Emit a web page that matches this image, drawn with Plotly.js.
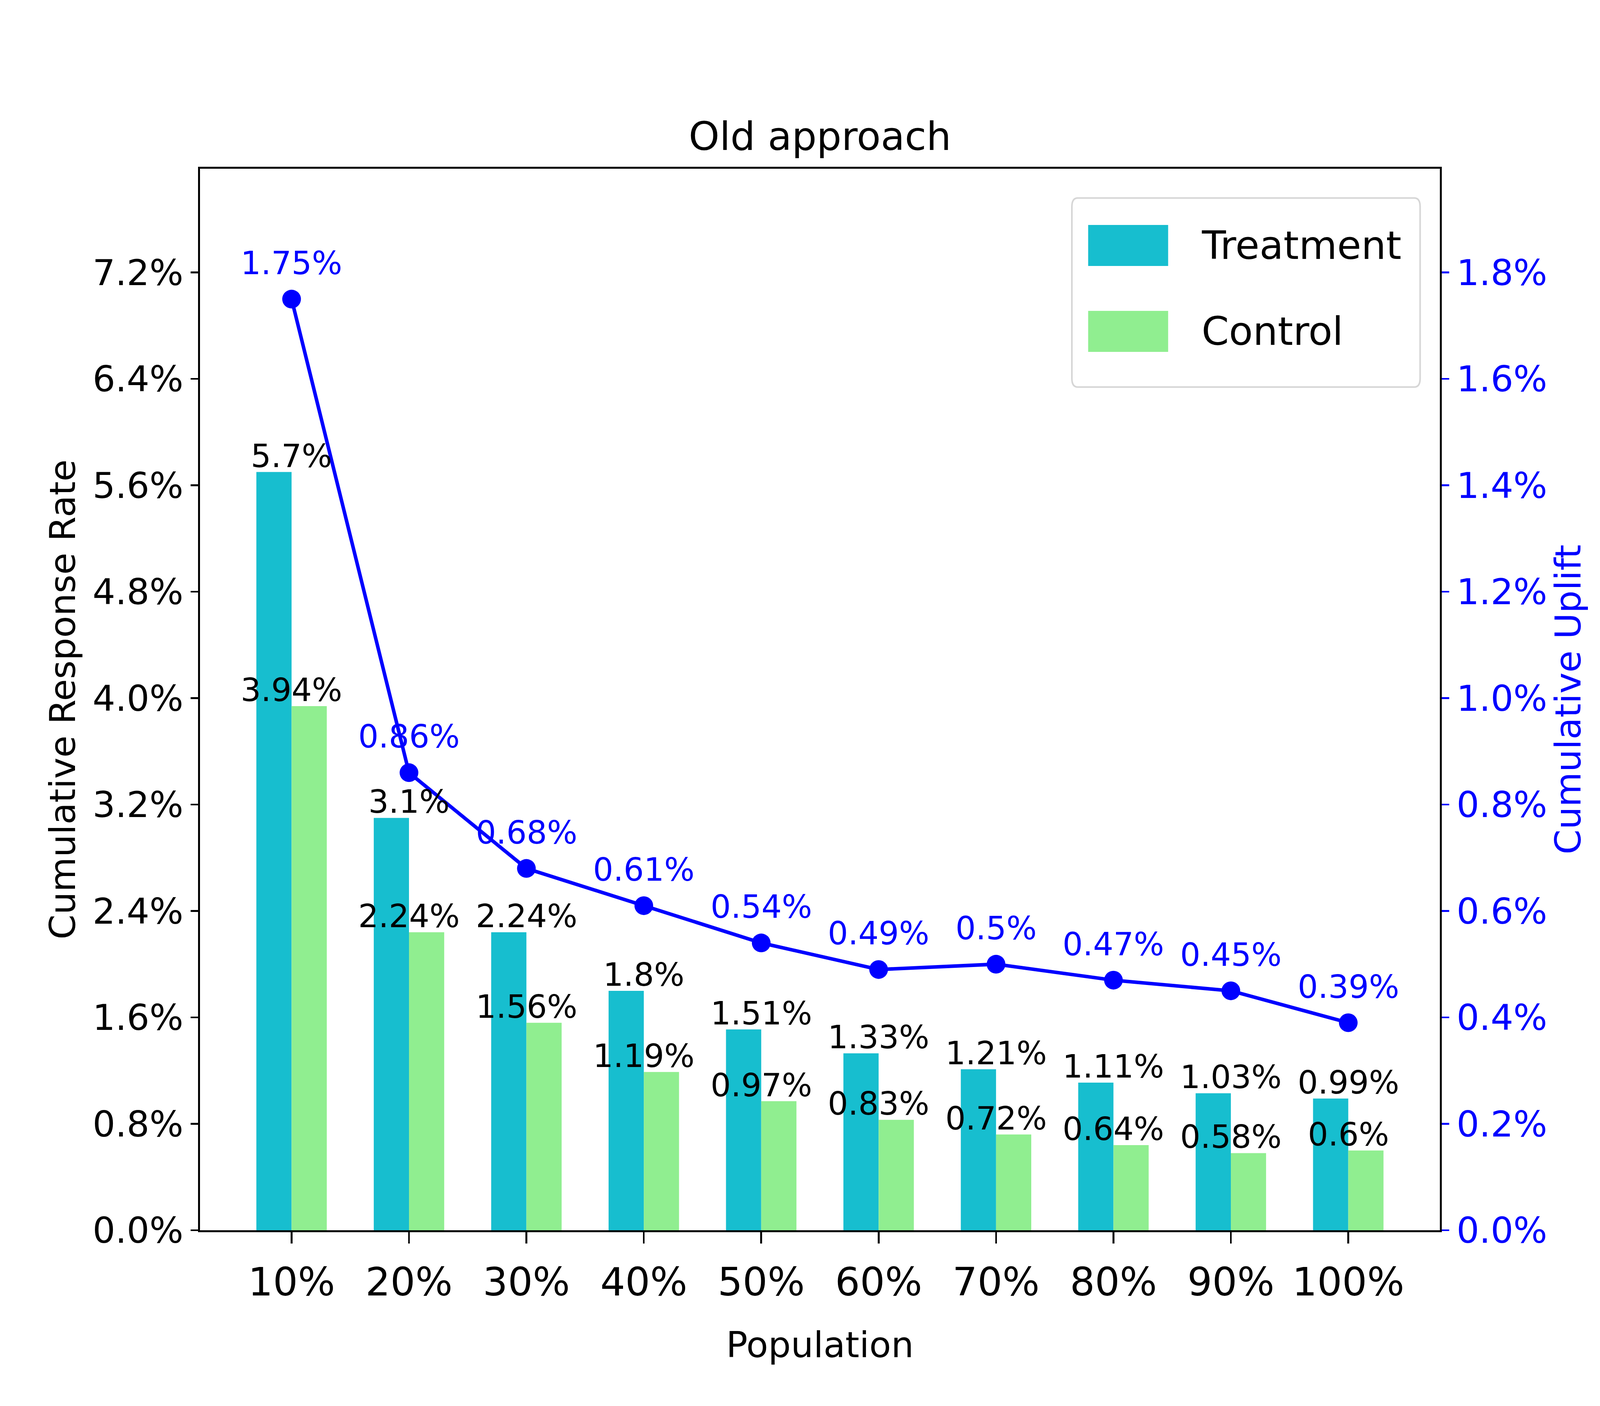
<!DOCTYPE html>
<html>
<head>
<meta charset="utf-8">
<script src="https://cdn.plot.ly/plotly-3.0.1.min.js"></script>
<style>html,body{margin:0;padding:0;background:#fff;overflow:hidden;width:100%;height:100%;}#chart{width:100vw;height:100vh;}</style>
</head>
<body>
<div id="chart"></div>
<script>
const populations = ['10%', '20%', '30%', '40%', '50%', '60%', '70%', '80%', '90%', '100%'];
const treatmentRate = [5.7, 3.1, 2.24, 1.8, 1.51, 1.33, 1.21, 1.11, 1.03, 0.99];
const controlRate = [3.94, 2.24, 1.56, 1.19, 0.97, 0.83, 0.72, 0.64, 0.58, 0.6];
const cumulativeUplift = [1.75, 0.86, 0.68, 0.61, 0.54, 0.49, 0.5, 0.47, 0.45, 0.39];
const seriesNames = ['Treatment', 'Control'];

const FONT = 'DejaVu Sans, Liberation Sans, sans-serif';
// design is 6000x3600; adapt to the real window size
const W = window.innerWidth || 6000, H = window.innerHeight || 3600;
const sx = W / 6000, sy = H / 3600, s = Math.min(sx, sy), sl = Math.sqrt(sx * sy);
const M = {l: 750 * sx, r: 600 * sx, t: 432 * sy, b: 450 * sy, pad: 0};
const pw = W - M.l - M.r, ph = H - M.t - M.b;
const px = v => (v * sx - M.l) / pw;
const py = v => (H - M.b - v * sy) / ph;

const traces = [
  {type: 'bar', name: seriesNames[0], x: populations, y: treatmentRate,
   marker: {color: '#17becf', line: {width: 0}}, yaxis: 'y', showlegend: false},
  {type: 'bar', name: seriesNames[1], x: populations, y: controlRate,
   marker: {color: '#90ee90', line: {width: 0}}, yaxis: 'y', showlegend: false},
  {type: 'scatter', mode: 'lines+markers', name: 'Cumulative Uplift', x: populations, y: cumulativeUplift,
   yaxis: 'y2', line: {color: '#0000ff', width: 11 * sl}, marker: {color: '#0000ff', size: 58 * sl}, showlegend: false}
];

const annotations = [];
populations.forEach((p, i) => {
  annotations.push({x: p, y: treatmentRate[i], xref: 'x', yref: 'y', text: treatmentRate[i] + '%',
    showarrow: false, xanchor: 'center', yanchor: 'bottom', yshift: -8 * sy,
    font: {family: FONT, size: 120 * s, color: '#000'}});
  annotations.push({x: p, y: controlRate[i], xref: 'x', yref: 'y', text: controlRate[i] + '%',
    showarrow: false, xanchor: 'center', yanchor: 'bottom', yshift: -8 * sy,
    font: {family: FONT, size: 120 * s, color: '#000'}});
  annotations.push({x: p, y: cumulativeUplift[i], xref: 'x', yref: 'y2', text: cumulativeUplift[i] + '%',
    showarrow: false, xanchor: 'center', yanchor: 'bottom', yshift: 43 * sy,
    font: {family: FONT, size: 120 * s, color: '#0000ff'}});
});

// legend drawn with large patches like the original
const legendColors = ['#17becf', '#90ee90'];
const shapes = [];
const lx0 = px(4020), lx1 = px(5326), ly0 = py(991), ly1 = py(507);
const rx = 22 * sx / pw, ry = 22 * sy / ph;
shapes.push({type: 'path', xref: 'paper', yref: 'paper',
  path: `M ${lx0 + rx},${ly0} L ${lx1 - rx},${ly0} Q ${lx1},${ly0} ${lx1},${ly0 + ry} L ${lx1},${ly1 - ry} Q ${lx1},${ly1} ${lx1 - rx},${ly1} L ${lx0 + rx},${ly1} Q ${lx0},${ly1} ${lx0},${ly1 - ry} L ${lx0},${ly0 + ry} Q ${lx0},${ly0} ${lx0 + rx},${ly0} Z`,
  fillcolor: 'rgba(255,255,255,0.8)', line: {color: '#d6d6d6', width: 6 * s}, layer: 'above'});
const patchTops = [576, 796];
seriesNames.forEach((n, k) => {
  shapes.push({type: 'rect', xref: 'paper', yref: 'paper', x0: px(4081), x1: px(4381),
    y0: py(patchTops[k] + 105), y1: py(patchTops[k]), fillcolor: legendColors[k], line: {width: 0}, layer: 'above'});
  annotations.push({xref: 'paper', yref: 'paper', x: px(4503), y: py(patchTops[k] + 52), text: n,
    showarrow: false, xanchor: 'left', yanchor: 'middle', font: {family: FONT, size: 147 * s, color: '#000'}});
});

const layout = {
  width: W, height: H,
  paper_bgcolor: '#fff', plot_bgcolor: '#fff',
  margin: M,
  font: {family: FONT, color: '#000'},
  title: {text: 'Old approach', font: {family: FONT, size: 147 * s, color: '#000'},
    x: 0.5, xref: 'paper', xanchor: 'center', y: 1, yref: 'paper', yanchor: 'bottom', pad: {b: 48 * sy}},
  barmode: 'group', bargap: 0.4, bargroupgap: 0,
  showlegend: false,
  xaxis: {type: 'category', range: [-0.78, 9.78], showline: true, linecolor: '#000', linewidth: 5.5 * sl, mirror: true,
    ticks: 'outside', ticklen: 29 * sy, tickwidth: 5.5 * sl, tickcolor: '#000', showgrid: false, zeroline: false,
    ticklabelstandoff: 13 * sy,
    tickfont: {family: FONT, size: 147 * s, color: '#000'},
    title: {text: 'Population', font: {family: FONT, size: 134 * s, color: '#000'}, standoff: 72 * sy}},
  yaxis: {range: [0, 7.98], tick0: 0, dtick: 0.8, tickformat: '.1f', ticksuffix: '%',
    showline: true, linecolor: '#000', linewidth: 5.5 * sl, mirror: false,
    ticks: 'outside', ticklen: 29 * sx, tickwidth: 5.5 * sl, tickcolor: '#000', showgrid: false, zeroline: false,
    tickfont: {family: FONT, size: 134 * s, color: '#000'},
    title: {text: 'Cumulative Response Rate', font: {family: FONT, size: 134 * s, color: '#000'}, standoff: 22 * sx}},
  yaxis2: {overlaying: 'y', side: 'right', range: [0, 1.995], tick0: 0, dtick: 0.2, tickformat: '.1f', ticksuffix: '%',
    showline: true, linecolor: '#000', linewidth: 5.5 * sl,
    ticks: 'outside', ticklen: 29 * sx, tickwidth: 5.5 * sl, tickcolor: '#0000ff', showgrid: false, zeroline: false,
    tickfont: {family: FONT, size: 134 * s, color: '#0000ff'},
    title: {text: 'Cumulative Uplift', font: {family: FONT, size: 134 * s, color: '#0000ff'}, standoff: 30 * sx}},
  annotations: annotations,
  shapes: shapes
};

Plotly.newPlot('chart', traces, layout, {displayModeBar: false, staticPlot: true});
</script>
</body>
</html>
